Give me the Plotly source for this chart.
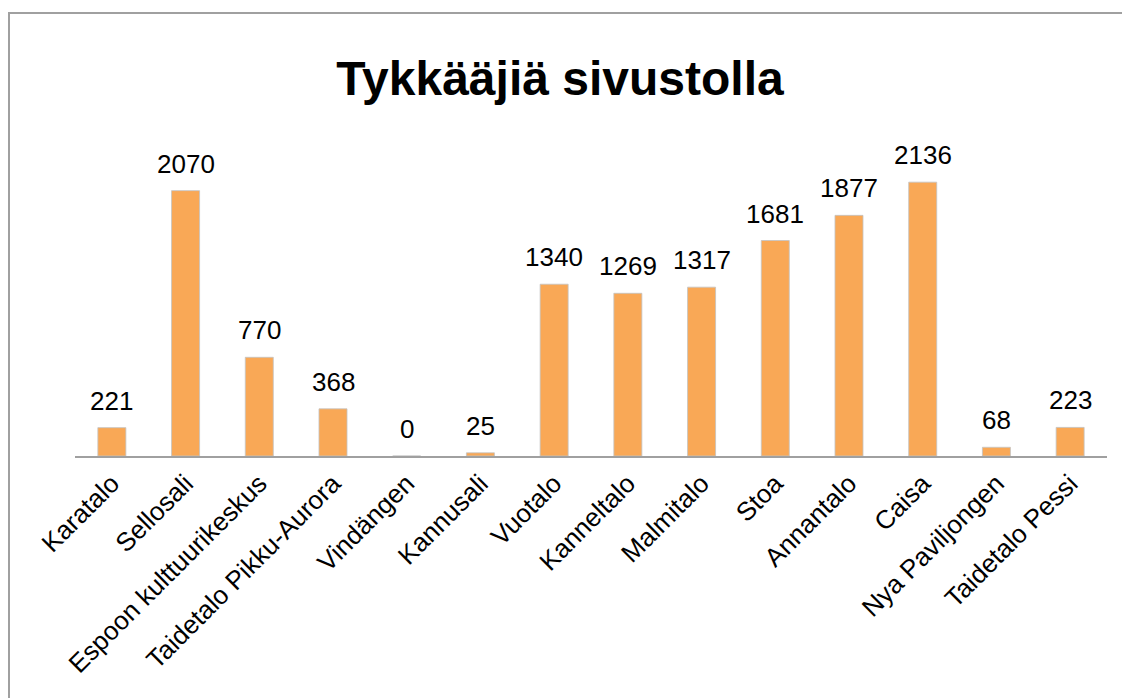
import plotly.graph_objects as go

categories = ["Karatalo", "Sellosali", "Espoon kulttuurikeskus", "Taidetalo Pikku-Aurora",
              "Vindängen", "Kannusali", "Vuotalo", "Kanneltalo", "Malmitalo", "Stoa",
              "Annantalo", "Caisa", "Nya Paviljongen", "Taidetalo Pessi"]
values = [221, 2070, 770, 368, 0, 25, 1340, 1269, 1317, 1681, 1877, 2136, 68, 223]
title_text = "Tykkääjiä sivustolla"

W, H = 1130, 698
OFF = 8  # page body margin
ml, mr, mt, mb = 75 - OFF, 31, 112, 698 - (456 - OFF)
pw = W - ml - mr
ph = H - mt - mb
FONT = "Liberation Sans, Arial, sans-serif"

fig = go.Figure()
fig.add_trace(go.Bar(
    x=categories, y=values,
    marker=dict(color="#F9A856", line=dict(color="rgba(195,195,195,0.8)", width=1)),
    hoverinfo="x+y",
))

for c, v in zip(categories, values):
    fig.add_annotation(x=c, y=v, xref="x", yref="y", text=str(v), showarrow=False,
                       yanchor="bottom", xanchor="center", yshift=10,
                       font=dict(size=26, color="#000000", family=FONT))

fig.update_layout(
    width=W, height=H,
    margin=dict(l=ml, r=mr, t=mt, b=mb, autoexpand=False),
    paper_bgcolor="white", plot_bgcolor="white",
    bargap=0.62,
    showlegend=False,
    font=dict(family=FONT, color="#000000"),
    title=dict(text="<b>" + title_text + "</b>", x=(560 - OFF) / W, xanchor="center",
               y=1 - (78 - OFF) / H, yanchor="middle", yref="container",
               font=dict(size=48, family=FONT, color="#000000")),
    xaxis=dict(tickangle=-45, tickfont=dict(size=26, family=FONT, color="#000000"),
               showline=True, linecolor="#a0a0a0", linewidth=2, ticks="",
               showgrid=False, zeroline=False, automargin=False),
    yaxis=dict(range=[0, ph / 0.1282], visible=False, showgrid=False,
               zeroline=False, automargin=False),
    shapes=[dict(type="rect", xref="paper", yref="paper",
                 x0=(9 - OFF - ml) / pw, x1=1.2, y0=-1.5, y1=(H - mb - (13 - OFF)) / ph,
                 line=dict(color="#a0a0a0", width=2), fillcolor="rgba(0,0,0,0)")],
)

fig.write_html("out.html")
